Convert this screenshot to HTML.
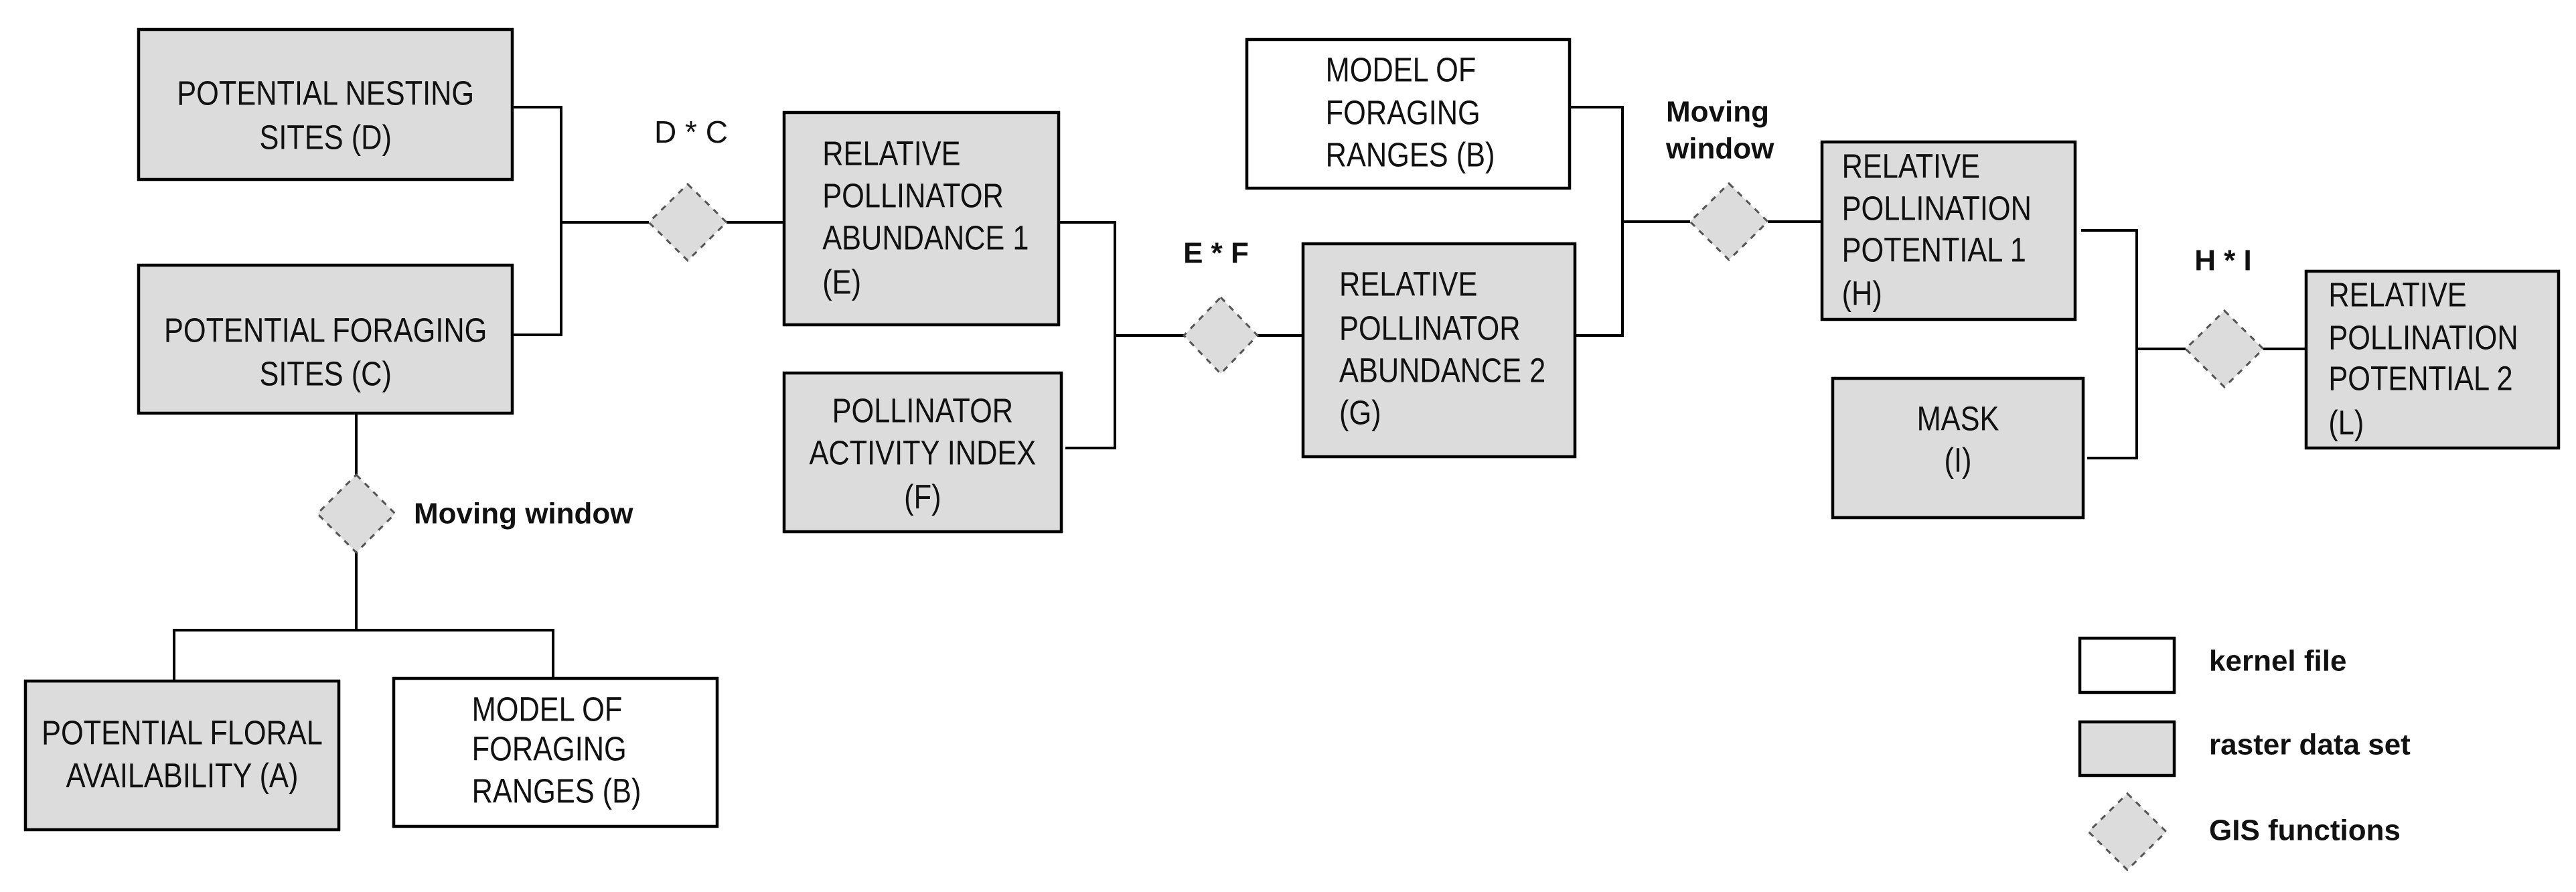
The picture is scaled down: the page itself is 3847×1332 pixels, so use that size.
<!DOCTYPE html>
<html><head><meta charset="utf-8"><style>
html,body{margin:0;padding:0;background:#fff;}
svg{display:block;}
text{font-family:"Liberation Sans",sans-serif;fill:#111;}
.t{font-size:51px;}
.l{font-size:46px;}
.b{font-size:44px;font-weight:bold;}
</style></head><body>
<svg width="3847" height="1332" viewBox="0 0 3847 1332" xmlns="http://www.w3.org/2000/svg">
<g stroke="#000" stroke-width="4" fill="none">
<polyline points="765,160 838,160 838,500 765,500"/>
<line x1="838" y1="332" x2="969" y2="332"/>
<line x1="1085" y1="332" x2="1171" y2="332"/>
<line x1="532" y1="617" x2="532" y2="709"/>
<line x1="532" y1="825" x2="532" y2="941"/>
<polyline points="260,1017 260,941 826,941 826,1013"/>
<polyline points="1581,332 1665,332 1665,669 1591,669"/>
<line x1="1665" y1="501" x2="1768" y2="501"/>
<line x1="1878" y1="501" x2="1946" y2="501"/>
<polyline points="2344,160 2423,160 2423,501 2352,501"/>
<line x1="2423" y1="331" x2="2524" y2="331"/>
<line x1="2640" y1="331" x2="2721" y2="331"/>
<polyline points="3108,344 3191,344 3191,684 3117,684"/>
<line x1="3191" y1="521" x2="3264" y2="521"/>
<line x1="3380" y1="521" x2="3444" y2="521"/>
</g>
<g stroke="#000" stroke-width="4.5">
<rect x="207" y="44" width="558" height="224" fill="#dcdcdc"/>
<rect x="207" y="396" width="558" height="221" fill="#dcdcdc"/>
<rect x="38" y="1017" width="468" height="222" fill="#dcdcdc"/>
<rect x="588" y="1013" width="483" height="221" fill="#fff"/>
<rect x="1171" y="168" width="410" height="317" fill="#dcdcdc"/>
<rect x="1171" y="557" width="414" height="237" fill="#dcdcdc"/>
<rect x="1862" y="59" width="482" height="222" fill="#fff"/>
<rect x="1946" y="364" width="406" height="318" fill="#dcdcdc"/>
<rect x="2721" y="212" width="378" height="265" fill="#dcdcdc"/>
<rect x="2737" y="565" width="374" height="208" fill="#dcdcdc"/>
<rect x="3444" y="405" width="377" height="264" fill="#dcdcdc"/>
<rect x="3106" y="953" width="141" height="81" fill="#fff"/>
<rect x="3106" y="1078" width="141" height="80" fill="#dcdcdc"/>
</g>
<g fill="#dcdcdc" stroke="#555" stroke-width="3" stroke-dasharray="9,9">
<polygon points="1027,275 1085,332 1027,389 969,332"/>
<polygon points="532,709 590,767 532,825 474,767"/>
<polygon points="1823,444 1878,501 1823,558 1768,501"/>
<polygon points="2582,274 2640,331 2582,388 2524,331"/>
<polygon points="3322,464 3380,521 3322,578 3264,521"/>
<polygon points="3177,1185 3235,1242 3177,1299 3119,1242"/>
</g>
<g class="t" dominant-baseline="central" transform="scale(0.85 1)">
<text x="572" y="140" text-anchor="middle">POTENTIAL  NESTING</text>
<text x="572" y="206" text-anchor="middle">SITES  (D)</text>
<text x="572" y="494" text-anchor="middle">POTENTIAL FORAGING</text>
<text x="572" y="559" text-anchor="middle">SITES (C)</text>
<text x="320" y="1095" text-anchor="middle">POTENTIAL FLORAL</text>
<text x="320" y="1159" text-anchor="middle">AVAILABILITY (A)</text>
<text x="829" y="1060">MODEL OF</text>
<text x="829" y="1119">FORAGING</text>
<text x="829" y="1182">RANGES (B)</text>
<text x="1445" y="230">RELATIVE</text>
<text x="1445" y="293">POLLINATOR</text>
<text x="1445" y="356">ABUNDANCE 1</text>
<text x="1445" y="422">(E)</text>
<text x="1621" y="614" text-anchor="middle">POLLINATOR</text>
<text x="1621" y="677" text-anchor="middle">ACTIVITY INDEX</text>
<text x="1621" y="743" text-anchor="middle">(F)</text>
<text x="2329" y="105">MODEL OF</text>
<text x="2329" y="169">FORAGING</text>
<text x="2329" y="232">RANGES (B)</text>
<text x="2353" y="425">RELATIVE</text>
<text x="2353" y="491">POLLINATOR</text>
<text x="2353" y="554">ABUNDANCE 2</text>
<text x="2353" y="617">(G)</text>
<text x="3236" y="249">RELATIVE</text>
<text x="3236" y="312">POLLINATION</text>
<text x="3236" y="374">POTENTIAL 1</text>
<text x="3236" y="439">(H)</text>
<text x="3440" y="626" text-anchor="middle">MASK</text>
<text x="3440" y="688" text-anchor="middle">(I)</text>
<text x="4091" y="441">RELATIVE</text>
<text x="4091" y="505">POLLINATION</text>
<text x="4091" y="566">POTENTIAL 2</text>
<text x="4091" y="632">(L)</text>
</g>
<text class="l" x="1032" y="197" text-anchor="middle" dominant-baseline="central">D * C</text>
<g class="b" dominant-baseline="central">
<text x="618" y="767">Moving window</text>
<text x="1816" y="378" text-anchor="middle">E * F</text>
<text x="2488" y="167">Moving</text>
<text x="2488" y="222">window</text>
<text x="3320" y="389" text-anchor="middle">H * I</text>
<text x="3299" y="987">kernel file</text>
<text x="3299" y="1112">raster data set</text>
<text x="3299" y="1240">GIS functions</text>
</g>
</svg>
</body></html>
